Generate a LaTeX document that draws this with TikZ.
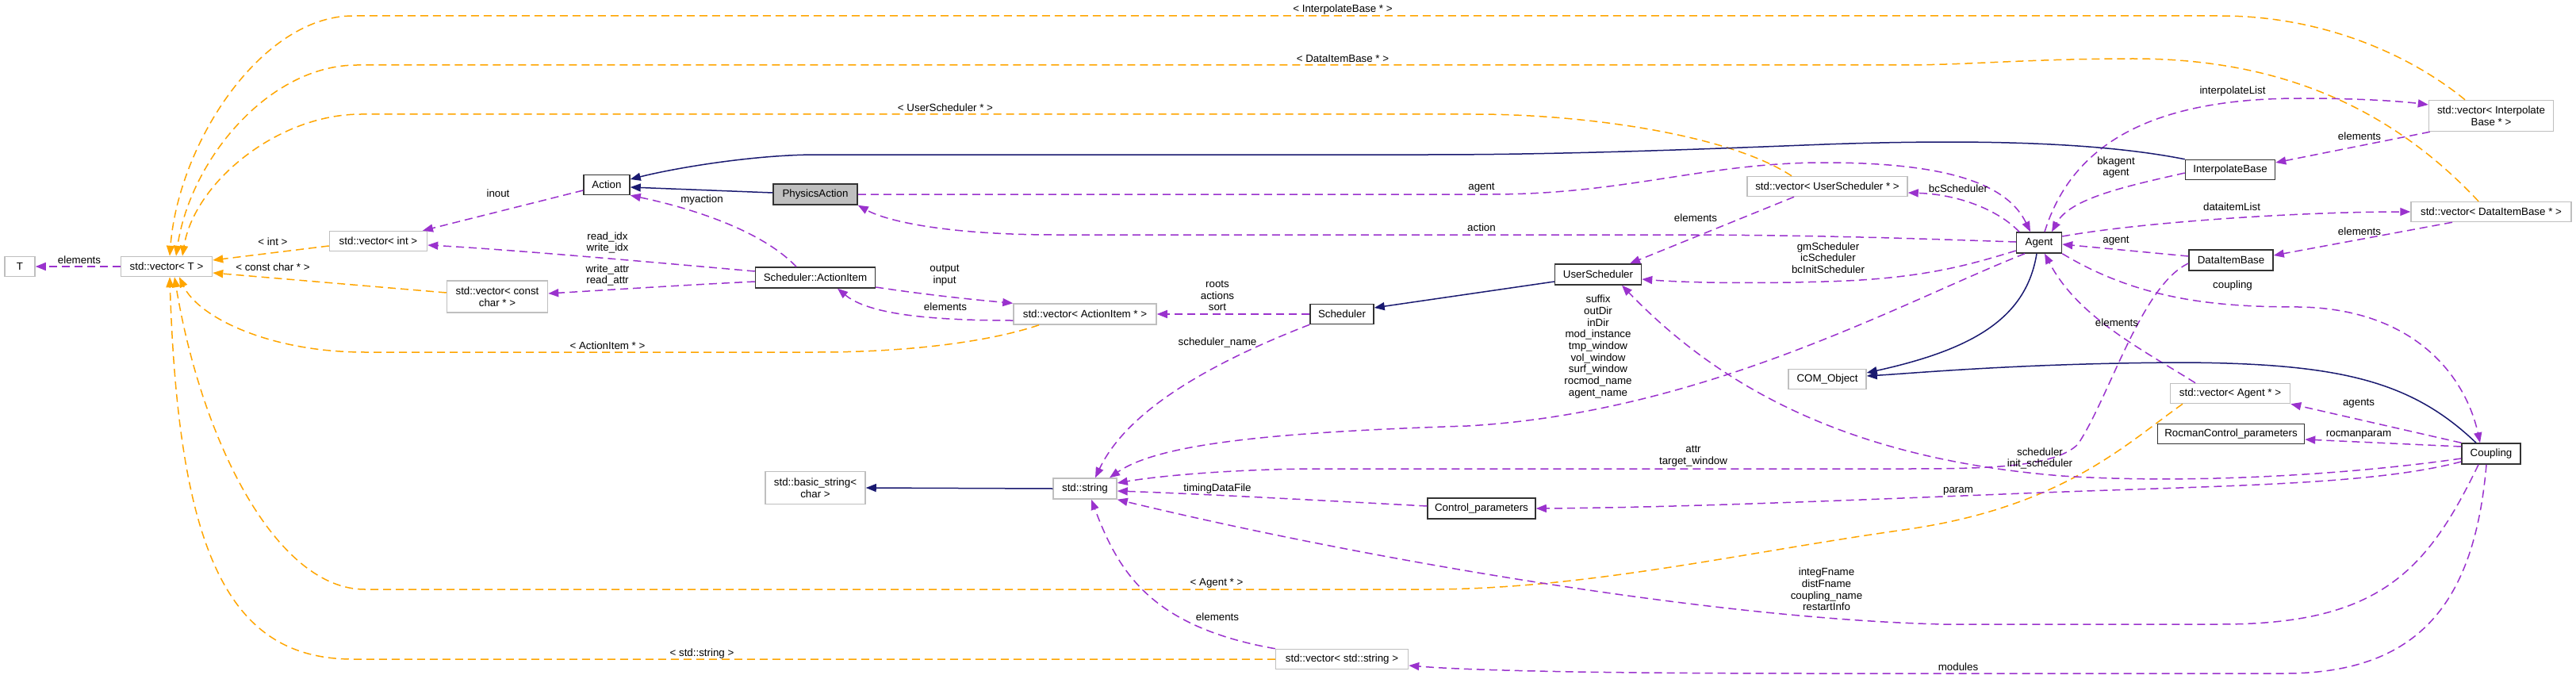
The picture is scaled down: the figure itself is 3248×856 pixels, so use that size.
\documentclass[tikz,border=0pt]{standalone}
\usepackage{fontspec}
\setmainfont{Liberation Sans}
\usetikzlibrary{arrows.meta}
\definecolor{dpurple}{HTML}{9A32CD}
\definecolor{dorange}{HTML}{FFA500}
\definecolor{dnavy}{HTML}{191970}
\definecolor{dgray}{HTML}{BFBFBF}
\newcommand{\lblfont}{\fontsize{13.33}{14.7}\selectfont}
\begin{document}
\begin{tikzpicture}[x=1pt,y=-1pt,
  box/.style={draw=black!80, line width=1.5pt, fill=white, inner sep=0pt, font=\lblfont, align=center, minimum height=26pt},
  extbox/.style={box, draw=dgray},
  lab/.style={font=\lblfont, align=center, inner sep=0pt},
  usage/.style={draw=dpurple, line width=1.5pt, dash pattern=on 10pt off 6pt, -{Triangle[length=13pt,width=10pt]}},
  tmpl/.style={usage, draw=dorange},
  inh/.style={draw=dnavy, line width=1.5pt, -{Triangle[length=13pt,width=10pt]}},
]
\useasboundingbox (0,0) rectangle (3248,856);
% nodes
\node[extbox, minimum width=38pt, minimum height=25pt] (T) at (25,336) {T};
\node[extbox, minimum width=115pt, minimum height=25pt] (vecT) at (210,336) {std::vector< T >};
\node[extbox, minimum width=123pt, minimum height=25pt] (vecint) at (477,304) {std::vector< int >};
\node[extbox, minimum width=127pt, minimum height=40pt] (veccc) at (627,374) {std::vector< const\\char * >};
\node[box, minimum width=58pt, minimum height=25pt] (Action) at (765,233) {Action};
\node[box, fill=dgray, minimum width=106pt] (PA) at (1028,245) {PhysicsAction};
\node[box, minimum width=151pt] (AI) at (1028,350) {Scheduler::ActionItem};
\node[extbox, minimum width=126pt, minimum height=41pt] (basicstr) at (1028,615) {std::basic\_string<\\char >};
\node[extbox, minimum width=180pt] (vecAI) at (1368,396) {std::vector< ActionItem * >};
\node[extbox, minimum width=80pt] (string) at (1368,616) {std::string};
\node[box, minimum width=80pt, minimum height=25pt] (Sched) at (1692,396) {Scheduler};
\node[extbox, minimum width=167pt, minimum height=25pt] (vecstring) at (1692,831) {std::vector< std::string >};
\node[box, minimum width=136pt] (Ctrl) at (1868,641) {Control\_parameters};
\node[box, minimum width=109pt] (US) at (2015,346) {UserScheduler};
\node[extbox, minimum width=202pt, minimum height=25pt] (vecUS) at (2304,235) {std::vector< UserScheduler * >};
\node[extbox, minimum width=98pt, minimum height=25pt] (COM) at (2304,478) {COM\_Object};
\node[box, minimum width=57pt] (Agent) at (2571,306) {Agent};
\node[box, minimum width=113pt, minimum height=25pt] (IB) at (2812,214) {InterpolateBase};
\node[box, minimum width=106pt] (DIB) at (2813,328) {DataItemBase};
\node[extbox, minimum width=151pt, minimum height=25pt] (vecAgent) at (2812,496) {std::vector< Agent * >};
\node[box, minimum width=185pt, minimum height=25pt] (Rocman) at (2813,547) {RocmanControl\_parameters};
\node[extbox, minimum width=157pt, minimum height=39pt] (vecIB) at (3141,146) {std::vector< Interpolate\\Base * >};
\node[extbox, minimum width=202pt, minimum height=25pt] (vecDIB) at (3141,267) {std::vector< DataItemBase * >};
\node[box, minimum width=74pt] (Coupling) at (3141,572) {Coupling};

% template (orange) edges
\draw[tmpl] ([yshift=-6pt]vecint.west) -- ([yshift=8pt]vecT.east);
\draw[tmpl] ([yshift=5pt]veccc.west) -- ([yshift=-8pt]vecT.east);
\draw[tmpl] ([xshift=-33pt]vecIB.north) .. controls (3040,70) and (2930,20) .. (2800,20) -- (445,20) .. controls (330,20) and (225,180) .. ([xshift=4pt]vecT.north);
\draw[tmpl] ([xshift=-16pt]vecDIB.north) .. controls (3000,120) and (2850,74) .. (2690,74) .. controls (2560,74) and (2480,82) .. (2400,82) -- (450,82) .. controls (340,82) and (240,200) .. ([xshift=12pt]vecT.north);
\draw[tmpl] ([xshift=-45pt]vecUS.north) .. controls (2180,170) and (2000,144) .. (1860,144) -- (455,144) .. controls (350,144) and (245,230) .. ([xshift=20pt]vecT.north);
\draw[tmpl] ([xshift=-58pt]vecAI.south) .. controls (1250,430) and (1150,444) .. (1030,444) -- (460,444) .. controls (340,444) and (250,400) .. ([xshift=16pt]vecT.south);
\draw[tmpl] ([xshift=-60pt]vecAgent.south) .. controls (2680,560) and (2600,640) .. (2400,668) .. controls (2200,696) and (2000,743) .. (1800,743) -- (460,743) .. controls (350,743) and (255,560) .. ([xshift=10pt]vecT.south);
\draw[tmpl] (vecstring.west) -- (445,831) .. controls (290,831) and (225,700) .. ([xshift=4pt]vecT.south);

% usage (purple) edges
\draw[usage] (vecT.west) -- (T.east);
\draw[usage] ([yshift=-7pt]Action.west) -- ([xshift=56pt]vecint.north);
\draw[usage] ([yshift=8pt]AI.west) .. controls (850,333) and (650,315) .. ([yshift=-5pt]vecint.east);
\draw[usage] ([yshift=-5pt]AI.west) .. controls (850,360) and (760,366) .. ([yshift=4pt]veccc.east);
\draw[usage] ([xshift=-24pt]AI.north) .. controls (960,290) and (870,262) .. (Action.south east);
\draw[usage] ([yshift=-12pt]AI.east) .. controls (1170,372) and (1230,378) .. (vecAI.north west);
\draw[usage] ([yshift=-8pt]vecAI.west) .. controls (1150,404) and (1090,392) .. ([xshift=28pt]AI.south);
\draw[usage] (Sched.west) -- (vecAI.east);
\draw[usage] (Sched.south west) .. controls (1520,460) and (1420,520) .. ([xshift=13pt]string.north);
\draw[usage] (PA.east) -- (1880,245) .. controls (2050,245) and (2150,205) .. (2300,205) .. controls (2450,205) and (2530,230) .. ([xshift=-11pt]Agent.north);
\draw[usage] ([yshift=1pt]Agent.west) .. controls (2450,302) and (2300,296) .. (2100,296) -- (1330,296) .. controls (1200,296) and (1120,280) .. (PA.south east);
\draw[usage] ([xshift=-25pt]Agent.north) .. controls (2520,265) and (2470,245) .. ([yshift=-8pt]vecUS.east);
\draw[usage] ([xshift=-42pt]vecUS.south) -- ([xshift=40pt]US.north);
\draw[usage] ([yshift=-10pt]Agent.west) .. controls (2480,335) and (2420,352) .. (2300,355) .. controls (2200,358) and (2120,356) .. ([yshift=-6pt]US.east);
\draw[usage] ([xshift=-18pt]Agent.south) .. controls (2400,380) and (2150,520) .. (1850,537) .. controls (1600,545) and (1460,560) .. ([xshift=31pt]string.north);
\draw[usage] ([yshift=-4pt]IB.west) .. controls (2680,235) and (2610,250) .. ([xshift=16pt]Agent.north);
\draw[usage] ([xshift=7pt]Agent.north) .. controls (2610,190) and (2700,124) .. (2900,124) .. controls (2980,124) and (3030,128) .. ([yshift=14pt]vecIB.west);
\draw[usage] ([xshift=2pt]vecIB.south west) -- ([yshift=9pt]IB.east);
\draw[usage] ([yshift=8pt]Agent.east) .. controls (2700,280) and (2900,267) .. (vecDIB.west);
\draw[usage] ([xshift=-49pt]vecDIB.south) -- ([yshift=6pt]DIB.east);
\draw[usage] ([yshift=5pt]DIB.west) -- ([yshift=-2pt]Agent.east);
\draw[usage] ([yshift=-4pt]DIB.west) .. controls (2700,360) and (2660,500) .. (2620,560) .. controls (2590,590) and (2500,591) .. (2400,591) -- (1650,591) .. controls (1550,592) and (1460,600) .. ([yshift=7pt]string.east);
\draw[usage] ([yshift=-6pt]Coupling.west) .. controls (2950,600) and (2750,610) .. (2600,600) .. controls (2350,580) and (2180,500) .. ([xshift=30pt]US.south);
\draw[usage] ([yshift=-10pt]Coupling.west) .. controls (2990,612) and (2800,612) .. (2550,622) .. controls (2300,632) and (2100,640) .. (Ctrl.east);
\draw[usage] ([yshift=9pt]Coupling.west) -- ([yshift=-7pt]Rocman.east);
\draw[usage] (Coupling.north west) -- (vecAgent.south east);
\draw[usage] (Agent.south east) .. controls (2700,380) and (2800,387) .. (2900,387) .. controls (3050,390) and (3110,480) .. ([xshift=-14pt]Coupling.north);
\draw[usage] ([xshift=-44pt]vecAgent.north) .. controls (2700,440) and (2620,400) .. ([xshift=7pt]Agent.south);
\draw[usage] ([xshift=-16pt]Coupling.south) .. controls (3060,720) and (3000,787) .. (2800,787) -- (2450,787) .. controls (2150,780) and (1700,700) .. (string.south east);
\draw[usage] ([xshift=-6pt]Coupling.south) .. controls (3120,760) and (3050,849) .. (2880,849) -- (2300,849) .. controls (2000,849) and (1850,845) .. ([yshift=-8pt]vecstring.east);
\draw[usage] (vecstring.north west) .. controls (1450,790) and (1410,720) .. ([xshift=8pt]string.south);
\draw[usage] ([yshift=3pt]Ctrl.west) .. controls (1650,630) and (1500,622) .. ([yshift=-3pt]string.east);

% inheritance (navy) edges
\draw[inh] ([yshift=2pt]PA.west) -- ([yshift=-3pt]Action.east);
\draw[inh] (IB.north west) .. controls (2650,180) and (2500,175) .. (2300,182) .. controls (2100,190) and (1950,195) .. (1800,195) -- (1030,195) .. controls (950,195) and (850,212) .. ([yshift=7pt]Action.east);
\draw[inh] ([yshift=-9pt]US.west) -- ([yshift=8pt]Sched.east);
\draw[inh] (string.west) -- (basicstr.east);
\draw[inh] ([xshift=-3pt]Agent.south) .. controls (2555,400) and (2490,440) .. ([yshift=8pt]COM.east);
\draw[inh] ([xshift=-19pt]Coupling.north) .. controls (3040,480) and (2950,458) .. (2750,457) .. controls (2550,458) and (2420,470) .. ([yshift=4pt]COM.east);

% labels
\node[lab] (l1) at (100,328) {elements};
\node[lab] (l2) at (344,305) {< int >};
\node[lab] (l3) at (344,337) {< const char * >};
\node[lab] (l4) at (628,244) {inout};
\node[lab] (l5) at (766,306) {read\_idx\\write\_idx};
\node[lab] (l6) at (766,347) {write\_attr\\read\_attr};
\node[lab] (l7) at (885,252) {myaction};
\node[lab] (l8) at (1693,12) {< InterpolateBase * >};
\node[lab] (l9) at (1693,74) {< DataItemBase * >};
\node[lab] (l10) at (1192,136) {< UserScheduler * >};
\node[lab] (l11) at (766,436) {< ActionItem * >};
\node[lab] (l12) at (1534,735) {< Agent * >};
\node[lab] (l13) at (885,824) {< std::string >};
\node[lab] (l14) at (1191,347) {output\\input};
\node[lab] (l15) at (1192,387) {elements};
\node[lab] (l16) at (1535,373) {roots\\actions\\sort};
\node[lab] (l17) at (1535,432) {scheduler\_name};
\node[lab] (l18) at (1535,616) {timingDataFile};
\node[lab] (l19) at (1535,778) {elements};
\node[lab] (l20) at (1868,237) {agent};
\node[lab] (l21) at (1868,287) {action};
\node[lab] (l22) at (2138,275) {elements};
\node[lab] (l23) at (2305,325) {gmScheduler\\icScheduler\\bcInitScheduler};
\node[lab] (l24) at (2015,437) {suffix\\outDir\\inDir\\mod\_instance\\tmp\_window\\vol\_window\\surf\_window\\rocmod\_name\\agent\_name};
\node[lab] (l25) at (2135,575) {attr\\target\_window};
\node[lab] (l26) at (2303,743) {integFname\\distFname\\coupling\_name\\restartInfo};
\node[lab] (l27) at (2469,238) {bcScheduler};
\node[lab] (l28) at (2815,115) {interpolateList};
\node[lab] (l29) at (2975,172) {elements};
\node[lab] (l30) at (2668,211) {bkagent\\agent};
\node[lab] (l31) at (2814,261) {dataitemList};
\node[lab] (l32) at (2975,292) {elements};
\node[lab] (l33) at (2668,304) {agent};
\node[lab] (l34) at (2815,360) {coupling};
\node[lab] (l35) at (2669,407) {elements};
\node[lab] (l36) at (2974,509) {agents};
\node[lab] (l37) at (2974,548) {rocmanparam};
\node[lab] (l38) at (2572,578) {scheduler\\init\_scheduler};
\node[lab] (l39) at (2469,619) {param};
\node[lab] (l40) at (2469,841) {modules};
\end{tikzpicture}
\end{document}
